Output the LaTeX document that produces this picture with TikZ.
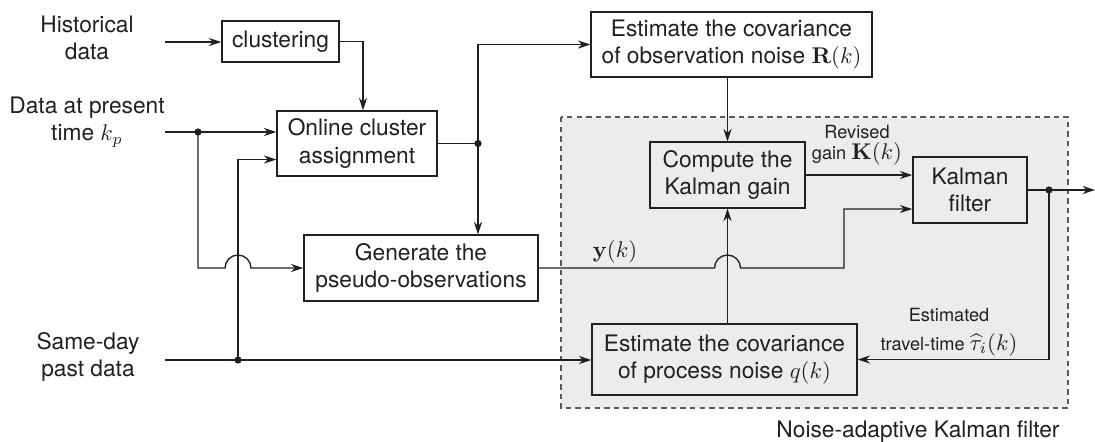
\documentclass[tikz,border=0pt]{standalone}
\usepackage[no-math]{fontspec}
\setmainfont{TeX Gyre Heros}
\usetikzlibrary{calc}
\usetikzlibrary{arrows.meta}

\definecolor{filtergray}{RGB}{236,236,238}
\definecolor{inkgray}{RGB}{35,31,32}

\begin{document}
\begin{tikzpicture}[x=0.44pt, y=-0.44pt, line width=0.6pt, color=inkgray,
		>={Stealth[length=5.5pt,width=3.6pt]},
		blk/.style={draw, inner sep=2pt, align=center, text=inkgray},
		txt/.style={align=center, text=inkgray},
		lbl/.style={align=center, text=inkgray, font=\footnotesize, inner sep=1pt}]
					\useasboundingbox (0,0) rectangle (1095,441);

					% Shaded area of the noise-adaptive Kalman filter, put in first
					\coordinate (NA1) at (561,117);
					\coordinate (NA2) at (1068,408);
					\draw[draw=black!65, line width=0.5pt, dash pattern=on 2.4pt off 1.8pt, fill=filtergray] (NA1) rectangle (NA2);
					\node[txt] (nakf) at (918,432) {Noise-adaptive Kalman filter};

					% Inputs on the left
					\node[txt] (hist) at (87,38) {Historical\\data};
					\node[txt] (pres) at (87,122) {Data at present\\time $k_p$};
					\node[txt] (past) at (88,357) {Same-day\\past data};
					\coordinate (hin) at (165,42);
					\coordinate (pin) at (165,132);
					\coordinate (sin) at (165,360);

					% Blocks
					\node[blk, minimum width=51.5pt, minimum height=18pt] (clust) at (280.5,41.5) {clustering};
					\node[blk, minimum width=70.4pt, minimum height=28.6pt] (online) at (357,143.5) {Online cluster\\assignment};
					\node[blk, minimum width=123.6pt, minimum height=28.6pt] (obs) at (731.5,44.5) {Estimate the covariance\\of observation noise $\mathbf{R}(k)$};
					\node[blk, minimum width=103pt, minimum height=29pt] (gen) at (421,268) {Generate the\\pseudo-observations};
					\node[blk, minimum width=68.2pt, minimum height=29pt] (gain) at (727.5,175) {Compute the\\Kalman gain};
					\node[blk, minimum width=50.2pt, minimum height=29pt] (kf) at (970,190) {Kalman\\filter};
					\node[blk, minimum width=116.6pt, minimum height=31.2pt] (proc) at (724.5,359.5) {Estimate the covariance\\of process noise $q(k)$};

					% Branch points and line hops
					\coordinate (d1) at (198,132);
					\coordinate (d2) at (238,360);
					\coordinate (d3) at (478,143.5);
					\coordinate (d4) at (1049,190);
					\coordinate (h1) at (238,268);
					\coordinate (h2) at (727.5,268);
					\coordinate (bend) at (844,268);
					\coordinate (out) at (1095,190);

					\draw[->] (hin) -- (hin -| clust.west);
					\draw[->] (clust.east) -| ($(online.north)+(6,0)$);
					\draw[->] (pin) -- (pin -| online.west);
					\draw[->] (d1) |- ($(h1)+(-13,0)$) arc[start angle=180, end angle=0, radius=5.72pt] -- (gen.west);
					\draw[->] (sin) -- (sin -| proc.west);
					\draw[->] (d2) |- ($(online.west)+(0,16)$);

					\draw (online.east) -- (d3);
					\draw[->] (d3) |- (obs.west);
					\draw[->] (d3) -- (d3 |- gen.north);
					\draw[->] (obs.south -| gain.north) -- (gain.north);
					\draw[->] (gain.east) -- (gain.east -| kf.west);
					\draw[->] (proc.north -| gain.south) -- (gain.south);
					\draw[->] (gen.east) -- ($(h2)+(-13,0)$) arc[start angle=180, end angle=0, radius=5.72pt] -- (bend) |- ($(kf.west)+(0,19)$);
					\node (yk) at (615,252) {$\mathbf{y}(k)$};

					\draw[->] (kf.east) -- (out);
					\draw[->] (d4) |- (proc.east);

					\node[lbl] (rev) at (857,145) {Revised\\gain {\normalsize$\mathbf{K}(k)$}};
					\node[lbl] (est) at (949,332) {Estimated\\[3pt]travel-time {\normalsize$\widehat{\tau}_i(k)$}};

					\foreach \d in {d1,d2,d3,d4}
						\fill (\d) circle[radius=1.6pt];
				\end{tikzpicture}
\end{document}
